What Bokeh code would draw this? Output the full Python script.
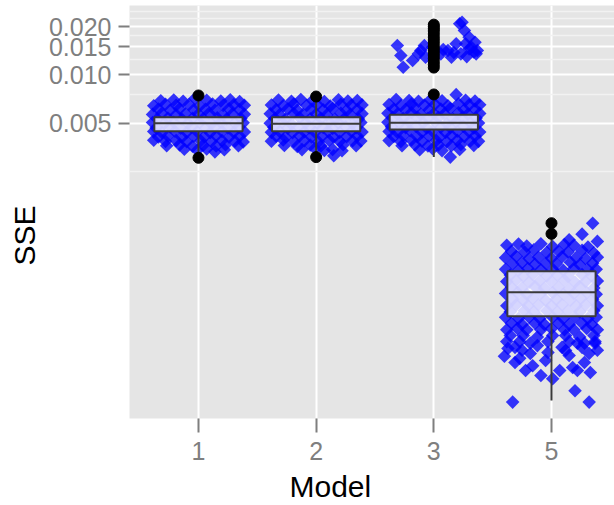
import math
from bokeh.plotting import figure
from bokeh.models import Range1d, FixedTicker, PrintfTickFormatter, Title
from bokeh.embed import file_html
from bokeh.resources import INLINE

# ---------------- data ----------------
models = ["1", "2", "3", "5"]
positions = [1, 2, 3, 4]

# boxplot statistics (SSE)
q1 = [0.00444, 0.00444, 0.00455, 0.000310]
median = [0.00499, 0.00494, 0.00501, 0.000438]
q3 = [0.00543, 0.00543, 0.00563, 0.000592]
whisker_lo = [0.00322, 0.00322, 0.00306, 0.0000920]
whisker_hi = [0.00711, 0.00701, 0.00691, 0.000949]

# outliers (model index, SSE)
out_model = [1, 1, 2, 2, 3] + [3] * 16 + [4, 4]
out_sse = [0.00743, 0.00303, 0.00732, 0.00306, 0.00754,
           0.0206, 0.0200, 0.0194, 0.0188, 0.0180, 0.0172, 0.0165, 0.0158,
           0.0151, 0.0145, 0.0139, 0.0133, 0.0127, 0.0121, 0.0116, 0.0111,
           0.001182, 0.001015]

# jittered observations: jitter in hundredths of a category, SSE in 1e-5
jit_a = [-32, -21, -13, -3, 7, 19, 27, 35,
         -38, -28, -19, -8, 1, 12, 21, 30, 39,
         -34, -24, -16, -4, 6, 14, 26, 35,
         -39, -31, -19, -11, 0, 9, 21, 29, 39,
         -35, -26, -14, -5, 4, 16, 24, 36,
         -39, -29, -21, -9, 1, 11, 19, 31, 38,
         -36, -24, -15, -6, 6, 14, 25, 34,
         -38, -31, -20, -10, -1, 10, 20, 30, 39,
         -34, -26, -14, -4, 5, 15, 26, 35,
         -38, -28, -19, -10, 2, 11, 20, 31, 38,
         -27, -16, -5, 4, 15, 23, 34,
         -12, -1, 7, 14, 22]
sse_m1 = [688, 697, 684, 712, 693, 686, 699, 681,
          641, 655, 646, 652, 639, 657, 644, 650, 645,
          611, 602, 614, 605, 609, 600, 613, 604,
          566, 574, 563, 571, 568, 575, 562, 570, 567,
          530, 537, 528, 535, 531, 538, 529, 534,
          503, 496, 505, 498, 502, 494, 504, 499, 501,
          466, 472, 464, 470, 467, 473, 465, 471,
          442, 436, 444, 437, 441, 435, 443, 438, 440,
          409, 415, 408, 414, 410, 416, 407, 413,
          390, 384, 388, 382, 387, 383, 389, 385, 381,
          360, 365, 358, 363, 359, 366, 361,
          343, 338, 344, 330, 340]
sse_m2 = [695, 684, 702, 690, 681, 698, 687, 692,
          648, 640, 656, 643, 651, 638, 654, 645, 649,
          606, 613, 601, 610, 604, 615, 599, 608,
          571, 564, 573, 566, 569, 561, 576, 565, 572,
          534, 528, 539, 531, 536, 527, 533, 530,
          498, 505, 493, 501, 497, 506, 500, 495, 503,
          470, 464, 472, 466, 469, 463, 474, 467,
          437, 443, 435, 441, 438, 445, 436, 442, 439,
          414, 408, 416, 409, 413, 407, 411, 415,
          385, 391, 383, 388, 381, 390, 384, 387, 386,
          362, 357, 364, 359, 312, 366, 360,
          341, 346, 337, 342, 335]
sse_m3 = [700, 690, 684, 697, 688, 752, 693, 686,
          652, 644, 658, 647, 655, 641, 660, 649, 650,
          612, 606, 618, 603, 611, 616, 605, 609,
          575, 568, 579, 566, 573, 570, 580, 567, 574,
          540, 533, 544, 536, 542, 531, 539, 537,
          505, 499, 510, 502, 507, 497, 508, 503, 500,
          473, 468, 476, 465, 471, 469, 477, 466,
          443, 438, 447, 440, 445, 436, 444, 441, 439,
          412, 418, 410, 415, 409, 417, 411, 414,
          388, 383, 391, 385, 389, 382, 390, 386, 384,
          361, 366, 359, 364, 360, 367, 362,
          340, 345, 336, 306, 342]
jit_m3_hi = [-31, -28, -26, -18, -13, -11, -8, -7, -1, 6, 12, 15, 19, 22,
             26, 30, 35, 37, 36, 32, 27, 23, 24, 8, 17, 30, 34, 28]
sse_m3_hi = [1525, 1321, 1116, 1229, 1353, 1419, 1525, 1289, 1489, 1353,
             1419, 1289, 1563, 2084, 1893, 1719, 1600, 1419, 1353, 1489,
             1563, 1353, 2133, 1440, 1380, 1450, 1390, 1300]
jit_m5 = [35, 26, 15, 39,
          -38, -28, -21, -9, 1, 11, 19, 31,
          -34, -23, -15, -4, 6, 14, 26, 36,
          -39, -30, -19, -11, 0, 9, 21, 29, 39,
          -33, -25, -14, -5, 4, 16, 24, 35,
          -39, -28, -20, -9, 1, 10, 19, 31, 38,
          -35, -24, -16, -4, 5, 14, 26, 34,
          -38, -30, -19, -10, 0, 11, 20, 29, 39,
          -34, -25, -14, -6, 6, 15, 24, 36,
          -39, -29, -21, -9, 1, 10, 19, 30, 38,
          -33, -24, -16, -5, 4, 16, 25, 35,
          -38, -30, -20, -11, 0, 9, 21, 29, 39,
          -35, -23, -15, -4, 5, 14, 24, 36,
          -39, -28, -19, -10, 1, 10, 20, 31, 38,
          -34, -25, -14, -6, 6, 15, 26, 34,
          -38, -29, -21, -9, 0, 11, 19, 30, 39,
          -35, -24, -12, 1, 12, 24, 36,
          -38, -27, -18, -3, 15, 28, 37,
          -40, -27, -22, -9, 1, 7, 18, 33, 37, 32, 20, -33, 32, -5, 15,
          -31, -18, 12, 26, 22,
          -37, -25, -12, 9, 39, 22, -31, -16, 28, -3]
sse_m5 = [118, 101, 93, 91,
          86, 87.5, 85, 88, 84.5, 87, 86, 84,
          79, 78, 80.5, 77.5, 79, 78, 80, 77,
          72, 73.5, 71, 72.5, 71.5, 73, 72, 71, 72.5,
          66, 67, 65.5, 66.5, 66, 67.5, 65, 66.5,
          61, 60, 61.5, 60.5, 61, 60, 61.5, 60.5, 61,
          56, 55, 56.5, 55.5, 56, 55, 56.5, 55.5,
          51, 52, 50.5, 51.5, 51, 52, 50.5, 51, 51.5,
          47, 46.5, 47.5, 46.5, 47, 46, 47.5, 46.5,
          43, 43.5, 42.5, 43, 43.5, 42.5, 43, 43.5, 42.5,
          39.5, 39, 40, 39, 39.5, 39, 40, 39.5,
          36, 36.5, 36, 36.5, 36, 36.5, 36, 36.5, 36,
          33, 33.5, 33, 33.5, 33, 33.5, 33, 33.5,
          30.5, 30, 30.5, 30, 30.5, 30, 30.5, 30, 30.5,
          28, 27.5, 28, 27.5, 28, 27.5, 28, 27.5,
          25.5, 26, 25.5, 25.5, 26, 25.5, 25.5, 26, 25.5,
          23.5, 23.5, 23, 23.5, 23.5, 23, 23.5,
          21.5, 21.5, 21, 21.5, 21.5, 21, 21.5,
          17.4, 16.9, 14.2, 13.2, 12.6, 14.2, 14.8, 13.8, 21.0, 18.1, 10.6,
          9.0, 9.0, 16.4, 17.6, 19.8, 18.1, 18.9, 19.8, 14.2,
          19.5, 19.0, 20.3, 19.8, 19.0, 21.0, 15.9, 15.2, 15.9, 18.4]

y_ticks = [0.005, 0.010, 0.015, 0.020]
y_minor = [0.0025, 0.0075, 0.0125, 0.0175, 0.0225, 0.025]

# ---------------- figure ----------------
p = figure(frame_width=486, frame_height=413,
           min_border_left=128, min_border_right=0,
           min_border_top=5, min_border_bottom=87,
           y_axis_type="log",
           x_range=Range1d(0.414, 4.544), y_range=Range1d(7.11e-5, 0.02713),
           output_backend="svg", toolbar_location=None,
           background_fill_color="#E5E5E5", border_fill_color="white")
p.title.visible = False
p.outline_line_color = None

xt = FixedTicker(ticks=positions)
yt = FixedTicker(ticks=y_ticks, minor_ticks=y_minor)
p.xaxis.ticker = xt
p.xgrid.ticker = xt
p.yaxis.ticker = yt
p.ygrid.ticker = yt
p.xaxis.major_label_overrides = {pos: m for pos, m in zip(positions, models)}
p.yaxis.formatter = PrintfTickFormatter(format="%.3f")

p.xgrid.grid_line_color = "white"
p.xgrid.grid_line_width = 2
p.ygrid.grid_line_color = "white"
p.ygrid.grid_line_width = 2
p.ygrid.minor_grid_line_color = "#F2F2F2"
p.ygrid.minor_grid_line_width = 1.5

for ax in (p.xaxis, p.yaxis):
    ax.axis_line_color = None
    ax.major_tick_line_color = "#7F7F7F"
    ax.major_tick_line_width = 2
    ax.major_tick_in = 0
    ax.minor_tick_line_color = None
    ax.major_label_text_font = "Liberation Sans"
    ax.major_label_text_font_size = "25px"
    ax.major_label_text_color = "#7F7F7F"

p.xaxis.major_tick_out = 14
p.yaxis.major_tick_out = 11
p.xaxis.major_label_standoff = 9
p.yaxis.major_label_standoff = 7

# axis titles (placed as titles so they can be offset like the original)
xtitle = Title(text="Model", align="left", offset=160,
               text_font="Liberation Sans", text_font_size="30px",
               text_font_style="normal", text_color="black")
ytitle = Title(text="SSE", align="left", offset=153,
               text_font="Liberation Sans", text_font_size="30px",
               text_font_style="normal", text_color="black")
p.add_layout(xtitle, "below")
p.add_layout(ytitle, "left")

# jittered points
px, py = [], []
for pos, jl, sl in [(1, jit_a, sse_m1), (2, jit_a, sse_m2), (3, jit_a, sse_m3),
                    (3, jit_m3_hi, sse_m3_hi), (4, jit_m5, sse_m5)]:
    for j, s in zip(jl, sl):
        px.append(pos + j / 100.0)
        py.append(s * 1e-5)
p.scatter(px, py, marker="square", angle=math.pi / 4, size=9.6,
          fill_color="#0000FF", fill_alpha=0.78, line_color=None)

# boxplots
hw = 0.375
edge = "#3A3A3A"
p.segment(positions, whisker_lo, positions, q1, line_color=edge, line_width=2)
p.segment(positions, q3, positions, whisker_hi, line_color=edge, line_width=2)
p.quad(left=[x - hw for x in positions], right=[x + hw for x in positions],
       bottom=q1, top=q3, fill_color="white", fill_alpha=0.8,
       line_color=edge, line_width=2)
p.segment([x - hw for x in positions], median, [x + hw for x in positions], median,
          line_color=edge, line_width=2)
p.scatter(out_model, out_sse, marker="circle", size=11, color="black")

open("out.html", "w").write(file_html(p, INLINE))
